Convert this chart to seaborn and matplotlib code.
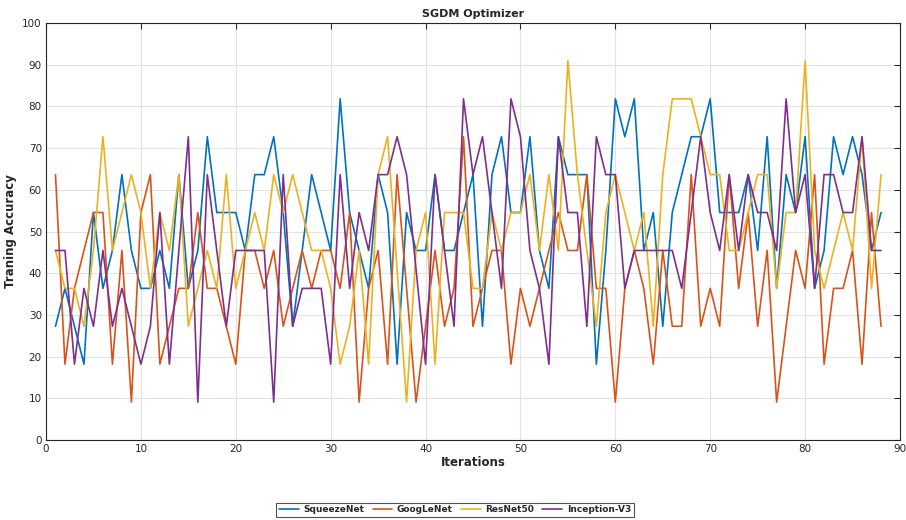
import numpy as np
import pandas as pd
import matplotlib
matplotlib.use("Agg")
import matplotlib.pyplot as plt
import seaborn as sns
from matplotlib.lines import Line2D

iterations = list(range(1, 89))

squeezenet = [27.27, 36.36, 27.27, 18.18, 54.55, 36.36, 45.45, 63.64, 45.45, 36.36,
              36.36, 45.45, 36.36, 63.64, 36.36, 45.45, 72.73, 54.55, 54.55, 54.55,
              45.45, 63.64, 63.64, 72.73, 54.55, 27.27, 45.45, 63.64, 54.55, 45.45,
              81.82, 54.55, 45.45, 36.36, 63.64, 54.55, 18.18, 54.55, 45.45, 45.45,
              63.64, 45.45, 45.45, 54.55, 63.64, 27.27, 63.64, 72.73, 54.55, 54.55,
              72.73, 45.45, 36.36, 72.73, 63.64, 63.64, 63.64, 18.18, 45.45, 81.82,
              72.73, 81.82, 45.45, 54.55, 27.27, 54.55, 63.64, 72.73, 72.73, 81.82,
              54.55, 54.55, 54.55, 63.64, 45.45, 72.73, 36.36, 63.64, 54.55, 72.73,
              36.36, 45.45, 72.73, 63.64, 72.73, 63.64, 45.45, 54.55]

googlenet = [63.64, 18.18, 36.36, 45.45, 54.55, 54.55, 18.18, 45.45, 9.09, 54.55,
             63.64, 18.18, 27.27, 36.36, 36.36, 54.55, 36.36, 36.36, 27.27, 18.18,
             45.45, 45.45, 36.36, 45.45, 27.27, 36.36, 45.45, 36.36, 45.45, 45.45,
             36.36, 54.55, 9.09, 36.36, 45.45, 18.18, 63.64, 36.36, 9.09, 27.27,
             45.45, 27.27, 36.36, 72.73, 27.27, 36.36, 45.45, 45.45, 18.18, 36.36,
             27.27, 36.36, 45.45, 54.55, 45.45, 45.45, 63.64, 36.36, 36.36, 9.09,
             36.36, 45.45, 36.36, 18.18, 45.45, 27.27, 27.27, 63.64, 27.27, 36.36,
             27.27, 63.64, 36.36, 54.55, 27.27, 45.45, 9.09, 27.27, 45.45, 36.36,
             63.64, 18.18, 36.36, 36.36, 45.45, 18.18, 54.55, 27.27]

resnet50 = [45.45, 36.36, 36.36, 27.27, 45.45, 72.73, 45.45, 54.55, 63.64, 54.55,
            36.36, 54.55, 45.45, 63.64, 27.27, 36.36, 45.45, 36.36, 63.64, 36.36,
            45.45, 54.55, 45.45, 63.64, 54.55, 63.64, 54.55, 45.45, 45.45, 36.36,
            18.18, 27.27, 45.45, 18.18, 63.64, 72.73, 40.91, 9.09, 45.45, 54.55,
            18.18, 54.55, 54.55, 54.55, 36.36, 36.36, 54.55, 45.45, 54.55, 54.55,
            63.64, 45.45, 63.64, 45.45, 90.91, 63.64, 45.45, 27.27, 54.55, 63.64,
            54.55, 45.45, 54.55, 27.27, 63.64, 81.82, 81.82, 81.82, 72.73, 63.64,
            63.64, 45.45, 45.45, 54.55, 63.64, 63.64, 36.36, 54.55, 54.55, 90.91,
            45.45, 36.36, 45.45, 54.55, 45.45, 72.73, 36.36, 63.64]

inception_v3 = [45.45, 45.45, 18.18, 36.36, 27.27, 45.45, 27.27, 36.36, 27.27, 18.18,
                27.27, 54.55, 18.18, 45.45, 72.73, 9.09, 63.64, 45.45, 27.27, 45.45,
                45.45, 45.45, 45.45, 9.09, 63.64, 27.27, 36.36, 36.36, 36.36, 18.18,
                63.64, 36.36, 54.55, 45.45, 63.64, 63.64, 72.73, 63.64, 40.91, 18.18,
                63.64, 45.45, 27.27, 81.82, 63.64, 72.73, 54.55, 36.36, 81.82, 72.73,
                45.45, 36.36, 18.18, 72.73, 54.55, 54.55, 27.27, 72.73, 63.64, 63.64,
                36.36, 45.45, 45.45, 45.45, 45.45, 45.45, 36.36, 54.55, 72.73, 54.55,
                45.45, 63.64, 45.45, 63.64, 54.55, 54.55, 45.45, 81.82, 54.55, 63.64,
                36.36, 63.64, 63.64, 54.55, 54.55, 72.73, 45.45, 45.45]

series_names = ["SqueezeNet", "GoogLeNet", "ResNet50", "Inception-V3"]
colors = ["#0072BD", "#D95319", "#EDB120", "#7E2F8E"]

frames = []
for name, vals in zip(series_names, [squeezenet, googlenet, resnet50, inception_v3]):
    frames.append(pd.DataFrame({"Iteration": iterations, "Accuracy": vals, "Model": name}))
df = pd.concat(frames, ignore_index=True)

sns.set_theme(style="white")
plt.rcParams["font.family"] = ["DejaVu Sans"]

fig = plt.figure(figsize=(9.06, 5.20), dpi=100)
ax = fig.add_axes([46 / 906, 1 - 440 / 520, (900 - 46) / 906, (440 - 23) / 520])

sns.lineplot(data=df, x="Iteration", y="Accuracy", hue="Model",
             hue_order=series_names, palette=colors, linewidth=1.2,
             ax=ax, legend=False, estimator=None, sort=False)

ax.set_xlim(0, 90)
ax.set_ylim(0, 100)
ax.set_xticks(np.arange(0, 91, 10))
ax.set_yticks(np.arange(0, 101, 10))
ax.tick_params(axis="both", which="both", direction="in", length=4, width=0.8,
               top=True, right=True, labelsize=7.5, colors="#262626", pad=3)
ax.grid(True, color="#e3e3e3", linewidth=0.8)
ax.set_axisbelow(True)
for s in ax.spines.values():
    s.set_color("#262626")
    s.set_linewidth(0.8)

ax.set_title("SGDM Optimizer", fontsize=8, fontweight="bold", pad=4)
ax.set_xlabel("Iterations", fontsize=8.5, fontweight="bold", labelpad=1)
ax.set_ylabel("Traning Accuracy", fontsize=8.5, fontweight="bold", labelpad=4)

handles = [Line2D([0], [0], color=c, lw=1.2) for c in colors]
leg = fig.legend(handles, series_names, loc="center", bbox_to_anchor=(455 / 906, 1 - 510 / 520),
                 ncol=4, frameon=True, fancybox=False, edgecolor="#262626",
                 prop={"size": 6.5, "weight": "bold"}, handlelength=2.2,
                 handletextpad=0.5, columnspacing=0.9, borderpad=0.3)
leg.get_frame().set_linewidth(0.8)

fig.savefig("out.png", dpi=100)
